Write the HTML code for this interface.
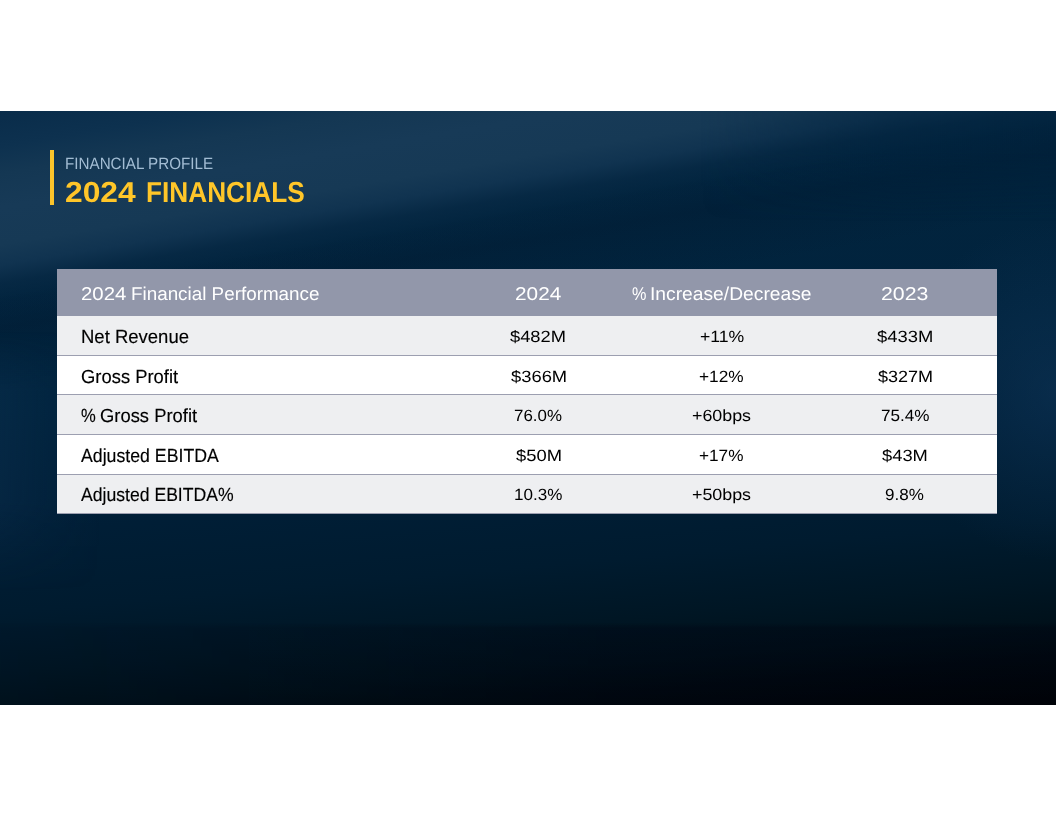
<!DOCTYPE html>
<html lang="en">
<head>
<meta charset="utf-8">
<title>2024 Financials</title>
<style>
  html, body { margin: 0; padding: 0; background: #ffffff; }
  body { width: 1056px; height: 816px; position: relative; overflow: hidden;
         font-family: "Liberation Sans", sans-serif; text-rendering: geometricPrecision; }
  .slide { position: absolute; left: 0; top: 111px; width: 1056px; height: 594px;
           overflow: hidden; background: #00223f; display: block; }
  .head { position: absolute; left: 0; top: 0; width: 1056px; height: 120px; }
  .bar { position: absolute; left: 50px; top: 39px; width: 3.5px; height: 55.2px; background: #fbc42b; }
  .sub, .title { margin: 0; padding: 0; font-size: inherit; font-weight: normal; }
  .t { position: absolute; white-space: nowrap; line-height: 1; transform-origin: 0 0; }
  .t .s { position: absolute; top: 0; transform-origin: 0 0; }
  .sub .t { color: #a3bdd4; font-size: 16.5px; }
  .title .t { color: #ffc629; font-weight: bold; font-size: 28.9px; }
  .table { position: absolute; left: 57px; top: 158px; width: 940px; height: 245px; background: #ffffff;
           border-collapse: separate; border-spacing: 0; table-layout: fixed; }
  .table th, .table td { position: relative; padding: 0; margin: 0; border: 0; font-weight: normal; text-align: left; overflow: visible; }
  .table tr { position: relative; }
  .c1 { width: 389px; } .c2 { width: 184px; } .c3 { width: 183px; } .c4 { width: 184px; }
  .hdr th { height: 47px; background: #9297aa; color: #ffffff; font-size: 18.5px; }
  .table td { border-bottom: 1px solid #9c9fb0; box-sizing: border-box; color: #000000; }
  .r1 td { height: 40px; background: #eeeff1; }
  .r2 td { height: 39px; background: #ffffff; }
  .r3 td { height: 40px; background: #eeeff1; }
  .r4 td { height: 40px; background: #ffffff; }
  .r5 td { height: 39px; background: #eeeff1; }
  td.lab { font-size: 19px; -webkit-text-stroke: 0.15px #000000; }
  td.num { font-size: 16.2px; }

  .bg { position: absolute; left: 0; top: 0; width: 1056px; height: 594px; }
  .bg1 { background: linear-gradient(175deg, #02253f 0px, #01233d 300px, #001f38 400px, #001b2f 500px, #001624 560px, #00111b 600px, #00090f 640px, #000305 684px); }
  .bg2 { background: linear-gradient(170.5deg, #092c4a 0px, #0d314f 35px, #143753 62px, #173a57 95px, #163955 132px, #103350 152px, rgba(8,42,70,0.75) 170px, rgba(3,37,64,0.4) 188px, rgba(1,35,62,0.15) 212px, rgba(0,34,61,0) 245px); }
  .bg7 { background: linear-gradient(170.5deg, rgba(0,22,44,0) 182px, rgba(0,22,44,0.28) 214px, rgba(0,22,44,0.18) 235px, rgba(0,22,44,0) 275px); }
  .bg3 { background: linear-gradient(90deg, rgba(0,34,61,0) 700px, rgba(0,34,61,0.4) 900px, rgba(0,34,61,0.3) 1056px); height: 110px;
         -webkit-mask-image: linear-gradient(180deg, #000 0, #000 40px, transparent 110px); mask-image: linear-gradient(180deg, #000 0, #000 40px, transparent 110px); }
  .bg4 { background: linear-gradient(90deg, rgba(22,62,100,0.22) 0px, rgba(22,62,100,0.11) 40px, rgba(22,62,100,0) 100px); top: 220px; height: 260px;
         -webkit-mask-image: linear-gradient(180deg, transparent 0, #000 60px, #000 170px, transparent 260px); mask-image: linear-gradient(180deg, transparent 0, #000 60px, #000 170px, transparent 260px); }
  .bg5 { background: radial-gradient(ellipse 160px 170px at 1056px 280px, rgba(18,58,96,0.45) 0, rgba(18,58,96,0.22) 50%, rgba(18,58,96,0) 100%); }
  .bg6 { background: linear-gradient(180deg, rgba(0,2,16,0) 512px, rgba(0,2,16,0.3) 517px, rgba(0,2,16,0.3) 594px);
         -webkit-mask-image: linear-gradient(90deg, rgba(0,0,0,0.15) 0, rgba(0,0,0,0.5) 250px, #000 600px); mask-image: linear-gradient(90deg, rgba(0,0,0,0.15) 0, rgba(0,0,0,0.5) 250px, #000 600px); }

  #sub { left: 65.28px; top: 45px; transform: scaleX(0.9217); }
  #title { left: 0; top: 68px; }
  #title .s1 { left: 64.89px; transform: scaleX(1.1006); }
  #title .s2 { left: 145.70px; transform: scaleX(0.9072); }
  #h1 { left: 0; top: 16px; }
  #h1 .s1 { left: 24.18px; transform: scaleX(1.1012); }
  #h1 .s2 { left: 73.99px; transform: scaleX(1.0182); }
  #h2 { left: 68.56px; top: 16px; transform: scaleX(1.1239); }
  #h3 { left: 0; top: 16px; }
  #h3 .s1 { left: 1.73px; transform: scaleX(0.8767); }
  #h3 .s2 { left: 19.57px; transform: scaleX(1.0405); }
  #h4 { left: 68.13px; top: 16px; transform: scaleX(1.1521); }
  #r1a { left: 23.52px; top: 12px; transform: scaleX(0.9734); }
  #r1b { left: 64.42px; top: 13px; transform: scaleX(1.1305); }
  #r1c { left: 69.52px; top: 13px; transform: scaleX(1.0895); }
  #r1d { left: 64.32px; top: 13px; transform: scaleX(1.1367); }
  #r2a { left: 23.88px; top: 12px; transform: scaleX(0.9689); }
  #r2b { left: 64.52px; top: 13px; transform: scaleX(1.1346); }
  #r2c { left: 69.34px; top: 13px; transform: scaleX(1.0667); }
  #r2d { left: 65.02px; top: 13px; transform: scaleX(1.1138); }
  #r3a { left: 0; top: 12px; }
  #r3a .s1 { left: 24.02px; transform: scaleX(0.8729); }
  #r3a .s2 { left: 43.08px; transform: scaleX(0.9679); }
  #r3b { left: 68.15px; top: 13px; transform: scaleX(1.0438); }
  #r3c { left: 62.11px; top: 13px; transform: scaleX(1.1023); }
  #r3d { left: 68.04px; top: 13px; transform: scaleX(1.0572); }
  #r4a { left: 24.21px; top: 12px; transform: scaleX(0.9321); }
  #r4b { left: 69.62px; top: 13px; transform: scaleX(1.1347); }
  #r4c { left: 69.44px; top: 13px; transform: scaleX(1.0617); }
  #r4d { left: 69.42px; top: 13px; transform: scaleX(1.1321); }
  #r5a { left: 24.21px; top: 11px; transform: scaleX(0.9264); }
  #r5b { left: 67.72px; top: 12px; transform: scaleX(1.0533); }
  #r5c { left: 62.11px; top: 12px; transform: scaleX(1.1023); }
  #r5d { left: 72.23px; top: 12px; transform: scaleX(1.0522); }
</style>
</head>
<body>
<main class="slide">
  <div class="bg bg1"></div>
  <div class="bg bg2"></div>
  <div class="bg bg7"></div>
  <div class="bg bg3"></div>
  <div class="bg bg4"></div>
  <div class="bg bg5"></div>
  <div class="bg bg6"></div>

  <header class="head">
    <div class="bar"></div>
    <p class="sub"><span class="t" id="sub">FINANCIAL PROFILE</span></p>
    <h1 class="title"><span class="t" id="title"><span class="s s1">2024</span> <span class="s s2">FINANCIALS</span></span></h1>
  </header>
  <table class="table">
    <thead>
      <tr class="hdr">
        <th class="hd c1"><span class="t" id="h1"><span class="s s1">2024</span> <span class="s s2">Financial Performance</span></span></th>
        <th class="hd c2"><span class="t" id="h2">2024</span></th>
        <th class="hd c3"><span class="t" id="h3"><span class="s s1">%</span> <span class="s s2">Increase/Decrease</span></span></th>
        <th class="hd c4"><span class="t" id="h4">2023</span></th>
      </tr>
    </thead>
    <tbody>
      <tr class="r1">
        <td class="lab c1"><span class="t" id="r1a">Net Revenue</span></td>
        <td class="num c2"><span class="t" id="r1b">$482M</span></td>
        <td class="num c3"><span class="t" id="r1c">+11%</span></td>
        <td class="num c4"><span class="t" id="r1d">$433M</span></td>
      </tr>
      <tr class="r2">
        <td class="lab c1"><span class="t" id="r2a">Gross Profit</span></td>
        <td class="num c2"><span class="t" id="r2b">$366M</span></td>
        <td class="num c3"><span class="t" id="r2c">+12%</span></td>
        <td class="num c4"><span class="t" id="r2d">$327M</span></td>
      </tr>
      <tr class="r3">
        <td class="lab c1"><span class="t" id="r3a"><span class="s s1">%</span> <span class="s s2">Gross Profit</span></span></td>
        <td class="num c2"><span class="t" id="r3b">76.0%</span></td>
        <td class="num c3"><span class="t" id="r3c">+60bps</span></td>
        <td class="num c4"><span class="t" id="r3d">75.4%</span></td>
      </tr>
      <tr class="r4">
        <td class="lab c1"><span class="t" id="r4a">Adjusted EBITDA</span></td>
        <td class="num c2"><span class="t" id="r4b">$50M</span></td>
        <td class="num c3"><span class="t" id="r4c">+17%</span></td>
        <td class="num c4"><span class="t" id="r4d">$43M</span></td>
      </tr>
      <tr class="r5">
        <td class="lab c1"><span class="t" id="r5a">Adjusted EBITDA%</span></td>
        <td class="num c2"><span class="t" id="r5b">10.3%</span></td>
        <td class="num c3"><span class="t" id="r5c">+50bps</span></td>
        <td class="num c4"><span class="t" id="r5d">9.8%</span></td>
      </tr>
    </tbody>
  </table>
</main>
</body>
</html>
